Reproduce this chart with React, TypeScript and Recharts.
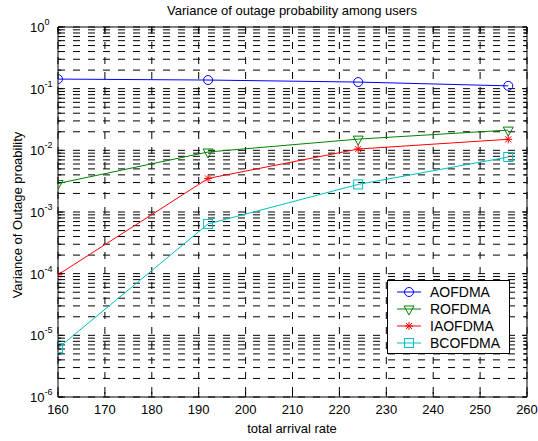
import React from 'react';
import { LineChart, Line, XAxis, YAxis, CartesianGrid } from 'recharts';

// page has an 8px body margin by default; the reference starts at 0,0
if (typeof document !== 'undefined') document.body.style.margin = '0';

const arrivalRates = [160, 192, 224, 256];
const aofdma = [0.143, 0.138, 0.128, 0.111];
const rofdma = [0.0029, 0.0094, 0.0152, 0.0213];
const iaofdma = [0.000096, 0.0035, 0.0105, 0.0151];
const bcofdma = [0.0000062, 0.00064, 0.0028, 0.0078];

const xTicks = [160, 170, 180, 190, 200, 210, 220, 230, 240, 250, 260];
const decades = [-6, -5, -4, -3, -2, -1];
const yTicks: number[] = [];
decades.forEach((d) => {
  for (let m = 1; m <= 9; m++) yTicks.push(Number((m * Math.pow(10, d)).toPrecision(3)));
});
yTicks.push(1);

const data = arrivalRates.map((x, i) => ({
  x,
  AOFDMA: aofdma[i],
  ROFDMA: rofdma[i],
  IAOFDMA: iaofdma[i],
  BCOFDMA: bcofdma[i],
}));

const FONT = 'Arial, "Liberation Sans", sans-serif';
const W = 538;
const H = 441;

const isDecade = (v: number) => Math.abs(Math.log10(v) - Math.round(Math.log10(v))) < 1e-6;

// ---- markers ----
const Circle = ({ cx, cy, color }: any) => (
  <circle cx={cx} cy={cy} r={4.5} fill="none" stroke={color} strokeWidth={1} />
);
const TriDown = ({ cx, cy, color }: any) => (
  <polygon
    points={`${cx - 5},${cy - 3} ${cx + 5},${cy - 3} ${cx},${cy + 6}`}
    fill="none"
    stroke={color}
    strokeWidth={1}
  />
);
const Star = ({ cx, cy, color }: any) => (
  <g stroke={color} strokeWidth={1}>
    <line x1={cx - 4} y1={cy} x2={cx + 4} y2={cy} />
    <line x1={cx} y1={cy - 4} x2={cx} y2={cy + 4} />
    <line x1={cx - 3} y1={cy - 3} x2={cx + 3} y2={cy + 3} />
    <line x1={cx - 3} y1={cy + 3} x2={cx + 3} y2={cy - 3} />
  </g>
);
const Square = ({ cx, cy, color }: any) => (
  <rect x={cx - 4.5} y={cy - 4.5} width={9} height={9} fill="none" stroke={color} strokeWidth={1} />
);

const series = [
  { key: 'AOFDMA', color: '#0000ff', Marker: Circle },
  { key: 'ROFDMA', color: '#008000', Marker: TriDown },
  { key: 'IAOFDMA', color: '#ff0000', Marker: Star },
  { key: 'BCOFDMA', color: '#00bfbf', Marker: Square },
];

// ---- ticks (MATLAB style, inward) ----
const BottomTick = (props: any) => {
  const { x, y, payload } = props;
  return (
    <g>
      <line x1={x} y1={y} x2={x} y2={y - 5} stroke="#000" />
      <text x={x} y={y + 17} textAnchor="middle" fontSize={13} fontFamily={FONT} fill="#000">
        {payload.value}
      </text>
    </g>
  );
};
const TopTick = (props: any) => {
  const { x, y } = props;
  return <line x1={x} y1={y} x2={x} y2={y + 5} stroke="#000" />;
};
const LeftTick = (props: any) => {
  const { x, y, payload } = props;
  const v = payload.value;
  const major = isDecade(v);
  return (
    <g>
      <line x1={x} y1={y} x2={x + (major ? 5 : 3)} y2={y} stroke="#000" />
      {major && (
        <text x={x - 28} y={y + 5} textAnchor="start" fontSize={13} fontFamily={FONT} fill="#000">
          <tspan>10</tspan>
          <tspan dy={-7} fontSize={9}>{String(Math.round(Math.log10(v)))}</tspan>
        </text>
      )}
    </g>
  );
};
const RightTick = (props: any) => {
  const { x, y, payload } = props;
  const major = isDecade(payload.value);
  return <line x1={x} y1={y} x2={x - (major ? 5 : 3)} y2={y} stroke="#000" />;
};

const LegendBox = () => (
  <div
    style={{
      position: 'absolute',
      left: 387,
      top: 280,
      width: 121,
      height: 72,
      border: '1px solid #000',
      background: '#fff',
    }}
  >
    <svg width={121} height={72}>
      {series.map((s, i) => {
        const cy = 11 + i * 17;
        const M = s.Marker;
        return (
          <g key={s.key}>
            <line x1={9} y1={cy} x2={33} y2={cy} stroke={s.color} strokeWidth={1} />
            <M cx={21} cy={cy} color={s.color} />
            <text x={42} y={cy + 5} fontSize={14} fontFamily={FONT} fill="#000">
              {s.key}
            </text>
          </g>
        );
      })}
    </svg>
  </div>
);

export default function App() {
  return (
    <div style={{ position: 'relative', width: W, height: H, background: '#fff' }}>
      <LineChart width={W} height={H} data={data} margin={{ top: 26, right: 10, bottom: 0, left: 0 }}>
        <CartesianGrid stroke="#000" strokeDasharray="7 8" strokeWidth={1} />
        <XAxis
          dataKey="x"
          type="number"
          domain={[160, 260]}
          ticks={xTicks}
          interval={0}
          height={44}
          tickSize={0}
          tickMargin={0}
          tickLine={false}
          axisLine={{ stroke: '#000' }}
          tick={<BottomTick />}
          allowDataOverflow
        />
        <XAxis
          xAxisId="top"
          orientation="top"
          dataKey="x"
          type="number"
          domain={[160, 260]}
          ticks={xTicks}
          interval={0}
          height={1}
          tickSize={0}
          tickMargin={0}
          tickLine={false}
          axisLine={{ stroke: '#000' }}
          tick={<TopTick />}
          allowDataOverflow
        />
        <YAxis
          scale="log"
          type="number"
          domain={[1e-6, 1]}
          ticks={yTicks}
          interval={0}
          width={58}
          tickSize={0}
          tickMargin={0}
          tickLine={false}
          axisLine={{ stroke: '#000' }}
          tick={<LeftTick />}
          allowDataOverflow
        />
        <YAxis
          yAxisId="right"
          orientation="right"
          scale="log"
          type="number"
          domain={[1e-6, 1]}
          ticks={yTicks}
          interval={0}
          width={1}
          tickSize={0}
          tickMargin={0}
          tickLine={false}
          axisLine={{ stroke: '#000' }}
          tick={<RightTick />}
          allowDataOverflow
        />
        {series.map((s) => (
          <Line
            key={s.key}
            dataKey={s.key}
            stroke={s.color}
            strokeWidth={1}
            type="linear"
            isAnimationActive={false}
            dot={(p: any) => <s.Marker key={`${s.key}-${p.index}`} cx={p.cx} cy={p.cy} color={s.color} />}
            activeDot={false}
          />
        ))}
      </LineChart>
      <svg
        width={W}
        height={H}
        style={{ position: 'absolute', left: 0, top: 0, pointerEvents: 'none' }}
      >
        <text x={292} y={15} textAnchor="middle" fontSize={13} fontFamily={FONT} fill="#000">
          Variance of outage probability among users
        </text>
        <text x={292} y={433} textAnchor="middle" fontSize={13} fontFamily={FONT} fill="#000">
          total arrival rate
        </text>
        <text
          x={0}
          y={0}
          transform="translate(22,215) rotate(-90)"
          textAnchor="middle"
          fontSize={13}
          fontFamily={FONT}
          fill="#000"
        >
          Variance of Outage proability
        </text>
      </svg>
      <LegendBox />
    </div>
  );
}
